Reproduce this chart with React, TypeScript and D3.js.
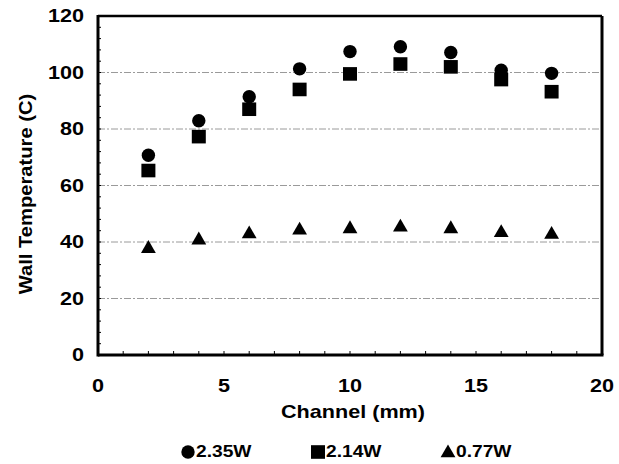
import React from "react";
import * as d3 from "d3";

const channels = [2, 4, 6, 8, 10, 12, 14, 16, 18];
const series235 = [70.7, 82.9, 91.4, 101.3, 107.4, 109.1, 107.1, 100.8, 99.7];
const series214 = [65.3, 77.3, 87.0, 94.0, 99.5, 103.0, 102.0, 97.5, 93.2];
const series077 = [38.0, 41.0, 43.2, 44.5, 45.0, 45.6, 45.0, 43.6, 43.0];
const seriesNames = ["2.35W", "2.14W", "0.77W"];
const xTicks = [0, 5, 10, 15, 20];
const yTicks = [0, 20, 40, 60, 80, 100, 120];
const xLabel = "Channel (mm)";
const yLabel = "Wall Temperature (C)";

const W = 619;
const H = 464;
const FONT = "'Liberation Sans', Arial, Helvetica, sans-serif";
const SX = 1.2;

const x = d3.scaleLinear().domain([0, 20]).range([98, 602]);
const y = d3.scaleLinear().domain([0, 120]).range([355, 16]);

function T({ px, py, size, anchor = "middle", weight = 700, rotate = 0, sx = SX, children }: any) {
  return (
    <text
      transform={`translate(${px},${py}) rotate(${rotate}) scale(${sx},1)`}
      fontFamily={FONT}
      fontSize={size}
      fontWeight={weight}
      textAnchor={anchor}
      dominantBaseline="central"
      fill="#000"
    >
      {children}
    </text>
  );
}

function Marker({ kind, cx, cy }: { kind: number; cx: number; cy: number }) {
  if (kind === 0) return <circle cx={cx} cy={cy} r={6.7} fill="#000" />;
  if (kind === 1) return <rect x={cx - 7} y={cy - 6.8} width={14} height={13.6} fill="#000" />;
  const tri = d3.symbol().type(d3.symbolTriangle).size(95)();
  return <path d={tri || ""} transform={`translate(${cx},${cy + 1})`} fill="#000" />;
}

export default function App() {
  const all = [series235, series214, series077];
  const minorY = d3.range(0, 121, 4);
  const minorX = d3.range(0, 21, 1);
  const [x0, x1] = x.range();
  const [y0, y1] = y.range();
  const legendX = [188, 318, 448];
  return (
    <svg width={W} height={H} style={{ position: "absolute", left: 0, top: 0, background: "#fff" }}>
      <rect width={W} height={H} fill="#fff" />
      {/* gridlines */}
      {yTicks.filter((v) => v > 0 && v < 120).map((v) => (
        <line key={"g" + v} x1={x0} x2={x1} y1={y(v)} y2={y(v)} stroke="#9a9a9a" strokeWidth={1} strokeDasharray="7 2 2 2" />
      ))}
      {/* minor ticks */}
      {minorY.map((v) => (
        <line key={"my" + v} x1={x0} x2={x0 + 3} y1={y(v)} y2={y(v)} stroke="#000" strokeWidth={1} />
      ))}
      {minorX.map((v) => (
        <line key={"mx" + v} x1={x(v)} x2={x(v)} y1={y0} y2={y0 - 4} stroke="#000" strokeWidth={1} />
      ))}
      {/* frame */}
      <line x1={x0} x2={x1} y1={y1} y2={y1} stroke="#000" strokeWidth={2.5} />
      <line x1={x1} x2={x1} y1={y1} y2={y0} stroke="#000" strokeWidth={3} />
      <line x1={x0} x2={x0} y1={y1 - 1} y2={y0 + 1.5} stroke="#000" strokeWidth={3} />
      <line x1={x0} x2={x1 + 1.5} y1={y0} y2={y0} stroke="#000" strokeWidth={3} />
      {/* tick labels */}
      {yTicks.map((v) => (
        <T key={"yl" + v} px={84} py={y(v)} size={18} anchor="end">
          {v}
        </T>
      ))}
      {xTicks.map((v) => (
        <T key={"xl" + v} px={x(v)} py={386} size={18}>
          {v}
        </T>
      ))}
      {/* axis titles */}
      <T px={353} py={412} size={18}>{xLabel}</T>
      <T px={26} py={194} size={18} rotate={-90} sx={1.12}>{yLabel}</T>
      {/* data */}
      {all.map((s, k) =>
        s.map((v, i) => <Marker key={k + "-" + i} kind={k} cx={x(channels[i])} cy={y(v)} />)
      )}
      {/* legend */}
      {seriesNames.map((n, k) => (
        <g key={"lg" + n}>
          <Marker kind={k} cx={legendX[k]} cy={452} />
          <T px={legendX[k] + 8} py={452} size={16} anchor="start">
            {n}
          </T>
        </g>
      ))}
    </svg>
  );
}
